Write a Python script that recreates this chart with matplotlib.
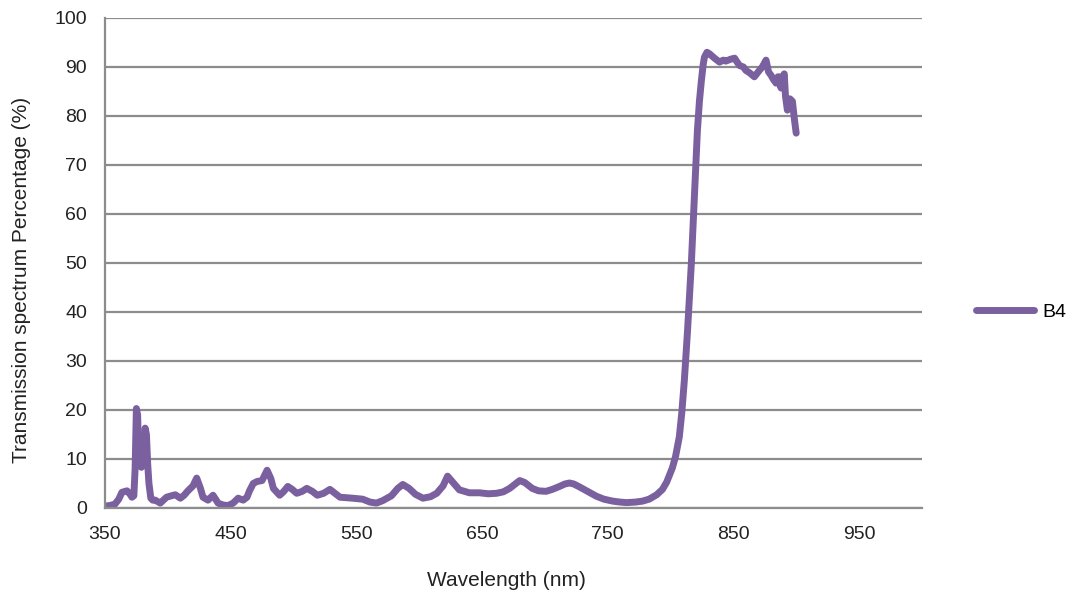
import numpy as np
import matplotlib.pyplot as plt

plt.rcParams['font.family'] = ['Liberation Sans', 'DejaVu Sans']

# B4 transmission curve
wavelength = [350, 354, 358, 361, 363.5, 367.5, 370, 371.5, 373, 374, 375, 376, 377, 378, 379, 380, 381,
              382, 383, 384, 385, 386.5, 388, 390, 394, 399, 403, 406, 410, 413, 416, 420, 423, 426, 428,
              432, 436, 440, 444, 448, 452, 456, 460, 463, 465, 468, 471, 475, 479, 482, 484, 489, 492,
              495.5, 499, 502.6, 507, 510.6, 515, 519, 524, 529, 533, 537, 547, 555, 561, 566, 571, 578,
              583, 587, 592, 597, 603, 609, 614, 619, 622.6, 627, 632, 640, 648, 655, 661.6, 667, 672,
              676, 680, 684, 690, 695, 701, 706, 711.7, 716, 719.6, 723, 727.6, 734, 741, 747, 754, 760,
              765, 772, 777.7, 783, 789, 793.6, 797, 801.5, 804, 807, 809, 811, 813.5, 816.6, 819,
              821.4, 823, 824.6, 826, 827, 829, 831, 835, 839, 842, 844, 848, 851, 853, 855, 858, 860,
              863, 866.7, 868.5, 870.7, 873, 876, 878, 880, 882, 884, 885.5, 886.6, 887.5, 888, 889.5,
              890.5, 891.5, 893, 895, 897, 898.5, 900]
transmission = [0.4, 0.5, 0.8, 1.8, 3.2, 3.5, 2.8, 2.2, 2.5, 8.0, 20.3, 19.0, 9.0, 14.0, 8.3, 12.0, 9.0,
                16.3, 15.0, 9.0, 5.0, 2.0, 1.6, 1.6, 1.0, 2.2, 2.5, 2.7, 2.0, 2.6, 3.5, 4.5, 6.1, 4.0, 2.2,
                1.6, 2.6, 1.0, 0.6, 0.5, 1.0, 2.0, 1.6, 2.2, 3.5, 5.0, 5.4, 5.6, 7.7, 6.0, 4.0, 2.6, 3.3,
                4.4, 3.8, 3.0, 3.4, 4.0, 3.4, 2.6, 3.0, 3.8, 3.0, 2.2, 2.0, 1.8, 1.2, 1.0, 1.5, 2.5,
                4.0, 4.8, 4.0, 2.8, 2.0, 2.3, 3.0, 4.5, 6.5, 5.2, 3.7, 3.1, 3.1, 2.9, 3.0, 3.3, 4.0,
                4.8, 5.6, 5.2, 4.0, 3.5, 3.4, 3.8, 4.4, 4.9, 5.1, 4.9, 4.3, 3.4, 2.4, 1.8, 1.4, 1.2,
                1.1, 1.2, 1.4, 1.8, 2.7, 3.8, 5.3, 8.2, 10.5, 14.5, 19.5, 26.0, 36.0, 50.0, 63.5,
                77.0, 83.0, 87.3, 90.5, 92.0, 93.0, 92.7, 91.8, 91.0, 91.4, 91.2, 91.6, 91.8, 91.0, 90.3,
                90.0, 89.3, 88.8, 88.0, 88.6, 89.3, 90.0, 91.4, 89.0, 88.3, 87.4, 86.7, 88.0, 88.0, 86.0,
                85.7, 88.0, 88.6, 84.0, 81.2, 83.5, 83.0, 79.5, 76.5]

fig = plt.figure(figsize=(10.82, 5.94), dpi=100)
ax = fig.add_axes([0.097, 0.1448, 0.755, 0.8249])

ax.plot(wavelength, transmission, color='#7B609F', linewidth=5, solid_capstyle='round',
        solid_joinstyle='round', label='B4')

ax.set_xlim(350, 1000)
ax.set_ylim(0, 100)
ax.set_xticks(np.arange(350, 1000, 100))
ax.set_yticks(np.arange(0, 101, 10))
ax.tick_params(axis='x', length=0, labelsize=14, colors='#222222', pad=13)
ax.tick_params(axis='y', length=0, labelsize=14, colors='#222222', pad=13)
ax.yaxis.grid(True, color='#8C8C8C', linewidth=1.6)
ax.set_axisbelow(True)
for side in ['top', 'right']:
    ax.spines[side].set_visible(False)
for side in ['left', 'bottom']:
    ax.spines[side].set_color('#8C8C8C')
    ax.spines[side].set_linewidth(1.6)

ax.set_xlabel('Wavelength (nm)', fontsize=15, color='#222222')
ax.set_ylabel('Transmission spectrum Percentage (%)', fontsize=15, color='#222222')
ax.xaxis.set_label_coords(0.491, -0.147, transform=ax.transAxes)
ax.yaxis.set_label_coords(-0.1016, 0.465, transform=ax.transAxes)
ax.xaxis.label.set_va('center')
ax.yaxis.label.set_va('center')

ax.legend(loc='center left', bbox_to_anchor=(1.045, 0.4), frameon=False, fontsize=14,
          handlelength=3.0, handletextpad=0.4)

fig.savefig('out.png', dpi=100)
